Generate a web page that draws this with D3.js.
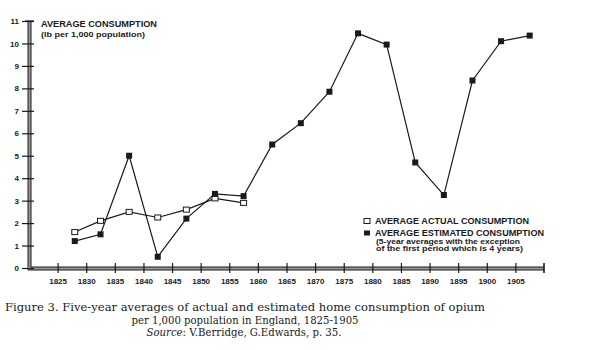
<!DOCTYPE html>
<html><head><meta charset="utf-8">
<script src="https://cdn.jsdelivr.net/npm/d3@7"></script>
<style>
body{margin:0;background:#fff;}
svg{display:block;}
.bold{font-family:"Liberation Sans",Arial,sans-serif;font-weight:bold;fill:#1a1a1a;}
.cap{font-family:"DejaVu Serif","Liberation Serif",serif;fill:#1a1a1a;}
</style></head>
<body><svg id="c" width="600" height="350"></svg>
<script>
const yTicks = [0,1,2,3,4,5,6,7,8,9,10,11];
const xTicks = [1825,1830,1835,1840,1845,1850,1855,1860,1865,1870,1875,1880,1885,1890,1895,1900,1905];
const actualYears = [1828,1832.5,1837.5,1842.5,1847.5,1852.5,1857.5];
const actualValues = [1.6,2.1,2.5,2.25,2.6,3.1,2.9];
const estYears = [1828,1832.5,1837.5,1842.5,1847.5,1852.5,1857.5,1862.5,1867.5,1872.5,1877.5,1882.5,1887.5,1892.5,1897.5,1902.5,1907.5];
const estValues = [1.2,1.5,5.0,0.5,2.2,3.3,3.2,5.5,6.45,7.85,10.45,9.95,4.7,3.25,8.35,10.1,10.35];
const legendLabels = ["AVERAGE ACTUAL CONSUMPTION","AVERAGE ESTIMATED CONSUMPTION","(5-year averages with the exception","of the first period which is 4 years)"];

const svg = d3.select("#c");
const x = d3.scaleLinear().domain([1820,1910]).range([29,544]);
const y = d3.scaleLinear().domain([0,11]).range([268,21]);
const ink = "#1a1a1a";

// axes: double lines with gray fill
const ax = svg.append("g");
ax.append("rect").attr("x",28).attr("y",y(11)).attr("width",3).attr("height",y(0)-y(11)+2).attr("fill","#999");
ax.append("line").attr("x1",28).attr("x2",28).attr("y1",y(11)).attr("y2",y(0)+2).attr("stroke",ink).attr("stroke-width",1);
ax.append("line").attr("x1",31).attr("x2",31).attr("y1",y(11)).attr("y2",y(0)-1).attr("stroke",ink).attr("stroke-width",1);
ax.append("rect").attr("x",28).attr("y",y(0)-1).attr("width",x(1910)-28).attr("height",3).attr("fill","#999");
ax.append("line").attr("x1",31).attr("x2",x(1910)).attr("y1",y(0)-1).attr("y2",y(0)-1).attr("stroke",ink).attr("stroke-width",1);
ax.append("line").attr("x1",28).attr("x2",x(1910)).attr("y1",y(0)+2).attr("y2",y(0)+2).attr("stroke",ink).attr("stroke-width",1);
ax.append("line").attr("x1",x(1910)).attr("x2",x(1910)).attr("y1",y(0)-5).attr("y2",y(0)+5).attr("stroke",ink).attr("stroke-width",1.6);
ax.append("line").attr("x1",25).attr("x2",34).attr("y1",y(11)).attr("y2",y(11)).attr("stroke",ink).attr("stroke-width",1.2);

const yAxis = svg.append("g").attr("transform","translate(34,0)")
  .call(d3.axisLeft(y).tickValues(yTicks).tickSize(12).tickFormat(d3.format("d")));
yAxis.select(".domain").remove();
yAxis.selectAll(".tick line").attr("stroke",ink).attr("stroke-width",1.2);
yAxis.selectAll(".tick text").attr("class","bold").attr("x",-15).style("font-size","8px").attr("fill",ink);
yAxis.attr("font-family",null);

const xAxis = svg.append("g").attr("transform","translate(0,"+(y(0)-5)+")")
  .call(d3.axisBottom(x).tickValues(xTicks).tickSize(10).tickFormat(d3.format("d")));
xAxis.select(".domain").remove();
xAxis.selectAll(".tick line").attr("stroke",ink).attr("stroke-width",1.2);
xAxis.selectAll(".tick text").attr("class","bold").attr("y",15.5).style("font-size","8px").attr("fill",ink);
xAxis.attr("font-family",null);

// lines
const line = d3.line().x(d=>x(d[0])).y(d=>y(d[1]));
const actual = actualYears.map((v,i)=>[v,actualValues[i]]);
const est = estYears.map((v,i)=>[v,estValues[i]]);
svg.append("path").datum(actual).attr("d",line).attr("fill","none").attr("stroke",ink).attr("stroke-width",1.2);
svg.append("path").datum(est).attr("d",line).attr("fill","none").attr("stroke",ink).attr("stroke-width",1.2);
svg.selectAll(".ma").data(actual).join("rect").attr("x",d=>x(d[0])-3).attr("y",d=>y(d[1])-2.5)
  .attr("width",6).attr("height",5).attr("fill","#fff").attr("stroke",ink).attr("stroke-width",1);
svg.selectAll(".me").data(est).join("rect").attr("x",d=>x(d[0])-3).attr("y",d=>y(d[1])-3)
  .attr("width",6).attr("height",6).attr("fill",ink);

// title
svg.append("text").attr("class","bold").attr("x",41).attr("y",27).style("font-size","8.5px")
  .attr("textLength",116).attr("lengthAdjust","spacingAndGlyphs").text("AVERAGE CONSUMPTION");
svg.append("text").attr("class","bold").attr("x",41).attr("y",36.5).style("font-size","7.5px")
  .attr("textLength",104).attr("lengthAdjust","spacingAndGlyphs").text("(lb per 1,000 population)");

// legend
svg.append("rect").attr("x",364).attr("y",218.5).attr("width",6).attr("height",5).attr("fill","#fff").attr("stroke",ink);
svg.append("rect").attr("x",364).attr("y",230.5).attr("width",6).attr("height",5).attr("fill",ink);
const lg = [[legendLabels[0],375,224,8.5,154],[legendLabels[1],375,236,8.5,169],[legendLabels[2],376,244,6.8,144],[legendLabels[3],376,250.5,6.8,147]];
lg.forEach(d=>svg.append("text").attr("class","bold").attr("x",d[1]).attr("y",d[2]).style("font-size",d[3]+"px")
  .attr("textLength",d[4]).attr("lengthAdjust","spacingAndGlyphs").text(d[0]));

// caption
svg.append("text").attr("class","cap").attr("x",5).attr("y",310.5).style("font-size","11px")
  .attr("textLength",480).attr("lengthAdjust","spacingAndGlyphs")
  .text("Figure 3. Five-year averages of actual and estimated home consumption of opium");
svg.append("text").attr("class","cap").attr("x",131.5).attr("y",323.5).style("font-size","11px")
  .attr("textLength",227).attr("lengthAdjust","spacingAndGlyphs")
  .text("per 1,000 population in England, 1825-1905");
const s = svg.append("text").attr("class","cap").attr("x",146.5).attr("y",336).style("font-size","11px")
  .attr("textLength",195).attr("lengthAdjust","spacingAndGlyphs");
s.append("tspan").attr("font-style","italic").text("Source");
s.append("tspan").text(": V.Berridge, G.Edwards, p. 35.");
</script></body></html>
